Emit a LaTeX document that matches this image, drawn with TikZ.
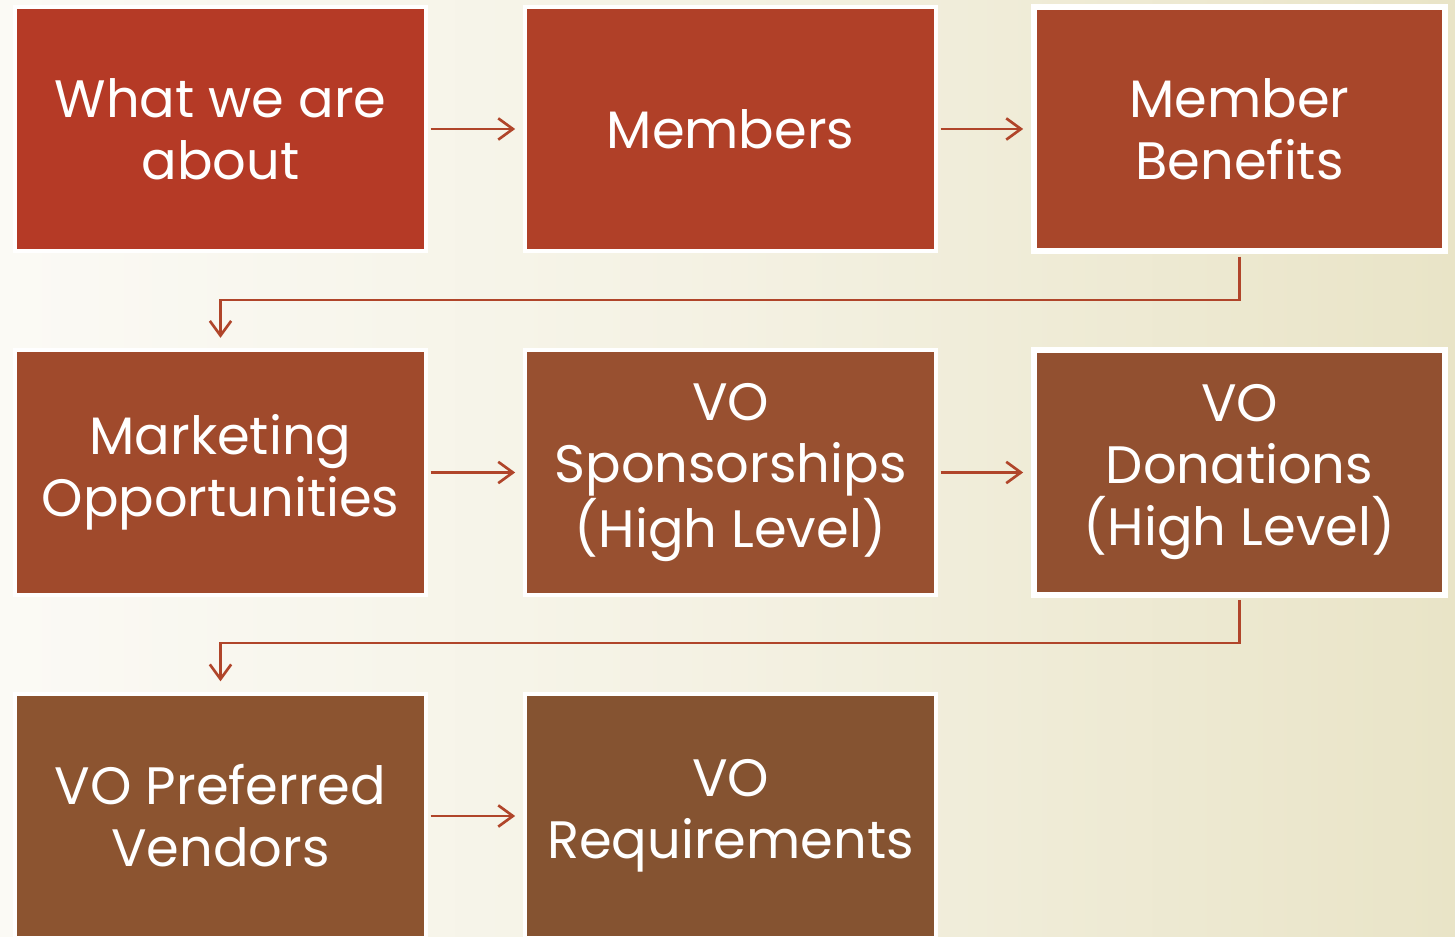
\documentclass[tikz,border=0pt]{standalone}
\usepackage{fontspec}
\setmainfont{Poppins}
\usetikzlibrary{arrows.meta}
\definecolor{bgL}{HTML}{FBFAF5}
\definecolor{bgR}{HTML}{E9E4C7}
\definecolor{cA}{HTML}{B53A26}
\definecolor{cB}{HTML}{B04028}
\definecolor{cC}{HTML}{A8462A}
\definecolor{cD}{HTML}{A04A2C}
\definecolor{cE}{HTML}{985030}
\definecolor{cF}{HTML}{925030}
\definecolor{cG}{HTML}{8C5430}
\definecolor{cH}{HTML}{855331}
\definecolor{lnc}{HTML}{B0452A}
\tikzset{
  box/.style={draw=white, line width=3pt, minimum width=308pt, minimum height=183pt,
    inner sep=0pt, text=white, align=center, font=\fontsize{39.5}{46.5}\selectfont},
  wide/.style={line width=4.5pt},
  conn/.style={draw=lnc, line width=2pt, -{Straight Barb[length=11pt,width=16pt,line width=2pt]}},
}
\begin{document}
\begin{tikzpicture}[x=0.75pt,y=-0.75pt]
\useasboundingbox (0,0) rectangle (1455,937);
\shade[left color=bgL, right color=bgR, middle color=bgL!60!bgR] (0,0) rectangle (1455,937);
\begin{scope}
\clip (0,0) rectangle (1455,937);
\node[box, fill=cA] (b1) at (220.5,129) {What we are\\about};
\node[box, fill=cB] (b2) at (730.5,129) {Members};
\node[box, wide, fill=cC] (b3) at (1239.5,129) {Member\\Benefits};
\node[box, fill=cD] (b4) at (220.5,472.5) {Marketing\\Opportunities};
\node[box, fill=cE] (b5) at (730.5,472.5) {VO\\Sponsorships\\(High Level)};
\node[box, wide, fill=cF] (b6) at (1239.5,472.5) {VO\\Donations\\(High Level)};
\node[box, fill=cG] (b7) at (220.5,816) {VO Preferred\\Vendors};
\node[box, fill=cH] (b8) at (730.5,816) {VO\\Requirements};
\end{scope}
\coordinate (t1) at (1239.5,300);
\coordinate (t2) at (220.5,300);
\coordinate (u1) at (1239.5,643);
\coordinate (u2) at (220.5,643);
\draw[conn] ([xshift=2pt]b1.east) -- ([xshift=-6pt]b2.west);
\draw[conn] ([xshift=2pt]b2.east) -- ([xshift=-6pt]b3.west);
\draw[conn] ([yshift=-2pt]b3.south) -- (t1) -- (t2) -- ([yshift=8pt]b4.north);
\draw[conn] ([xshift=2pt]b4.east) -- ([xshift=-6pt]b5.west);
\draw[conn] ([xshift=2pt]b5.east) -- ([xshift=-6pt]b6.west);
\draw[conn] ([yshift=-2pt]b6.south) -- (u1) -- (u2) -- ([yshift=8pt]b7.north);
\draw[conn] ([xshift=2pt]b7.east) -- ([xshift=-6pt]b8.west);
\end{tikzpicture}
\end{document}
